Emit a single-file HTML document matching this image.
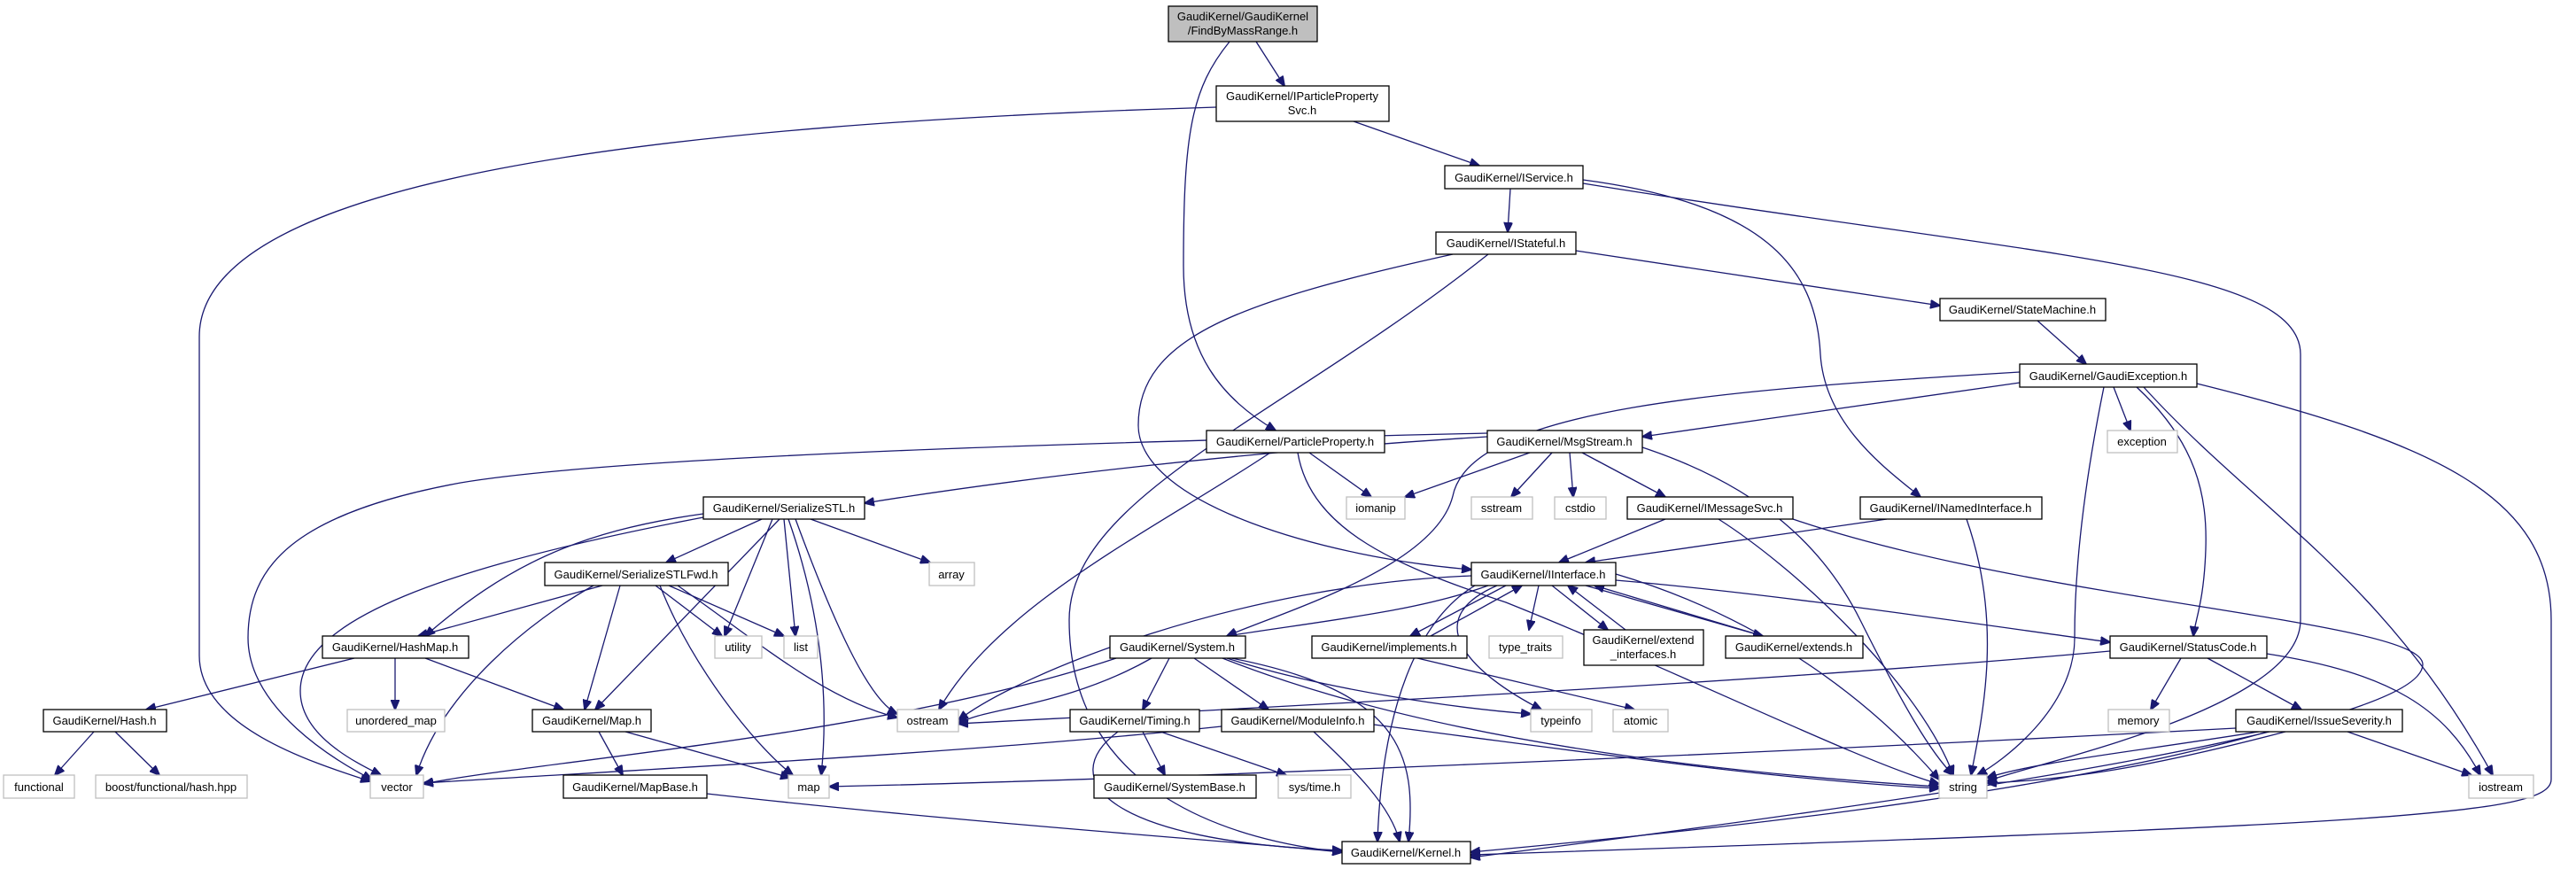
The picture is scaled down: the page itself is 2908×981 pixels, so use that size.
<!DOCTYPE html>
<html><head><meta charset="utf-8">
<style>
html,body{margin:0;padding:0;background:#fff;}
svg{display:block;}
text{font-family:"Liberation Sans",Arial,sans-serif;font-size:13px;fill:#000;}
.e{fill:none;stroke:#191970;stroke-width:1.3;marker-end:url(#a);}
.n{fill:#fff;stroke:#000;stroke-width:1.3;}
.s{fill:#fff;stroke:#bfbfbf;stroke-width:1.3;}
</style></head>
<body>
<svg width="2908" height="981" viewBox="0 0 2908 981" xmlns="http://www.w3.org/2000/svg">
<defs>
<marker id="a" markerWidth="12" markerHeight="10" refX="11" refY="5" orient="auto" markerUnits="userSpaceOnUse">
<path d="M0,0 L12,5 L0,10 Z" fill="#191970" stroke="#191970"/>
</marker>
</defs>

<!-- edges -->
<path class="e" d="M1418,47 L1450,97"/>
<path class="e" d="M1388,47 C1345,100 1336,150 1336,300 C1336,400 1380,450 1440,486"/>
<path class="e" d="M1373,121 C750,140 225,200 225,380 L225,740 C225,820 350,860 418,882"/>
<path class="e" d="M1528,137 L1670,187"/>
<path class="e" d="M1705,213 L1702,262"/>
<path class="e" d="M1787,203 C1990,230 2050,300 2055,400 C2060,480 2130,530 2168,561"/>
<path class="e" d="M1787,207 C2300,290 2597,300 2597,400 L2597,700 C2597,800 2300,860 2243,882"/>
<path class="e" d="M1779,283 L2190,345"/>
<path class="e" d="M1640,287 C1400,340 1285,380 1285,480 C1285,570 1500,630 1661,643"/>
<path class="e" d="M1680,287 C1450,470 1207,560 1207,700 C1207,900 1400,950 1515,962"/>
<path class="e" d="M2300,362 L2355,411"/>
<path class="e" d="M2280,432 L1854,493"/>
<path class="e" d="M2280,420 C1950,440 1660,460 1640,560 C1620,640 1450,690 1385,718"/>
<path class="e" d="M2386,437 L2405,486"/>
<path class="e" d="M2375,437 C2350,560 2342,650 2342,720 C2342,800 2260,860 2232,875"/>
<path class="e" d="M2412,437 C2480,500 2492,560 2490,620 C2488,680 2478,700 2476,718"/>
<path class="e" d="M2420,437 C2550,580 2690,650 2814,875"/>
<path class="e" d="M2480,433 C2750,500 2880,560 2880,700 L2880,880 C2880,920 2700,930 1660,965"/>
<path class="e" d="M1679,493 C1400,510 1150,540 976,568"/>
<path class="e" d="M1679,489 C1200,500 700,515 520,545 C330,580 280,640 280,720 C280,800 380,860 420,880"/>
<path class="e" d="M1727,511 L1586,561"/>
<path class="e" d="M1752,511 L1706,561"/>
<path class="e" d="M1772,511 L1776,561"/>
<path class="e" d="M1786,511 L1880,561"/>
<path class="e" d="M1854,505 C1990,550 2060,620 2100,700 C2150,800 2180,850 2205,875"/>
<path class="e" d="M1478,511 L1548,561"/>
<path class="e" d="M1465,511 C1480,600 1580,640 1700,680 C1900,760 2100,860 2189,885"/>
<path class="e" d="M1434,511 C1300,600 1130,680 1060,801"/>
<!-- SerializeSTL -->
<path class="e" d="M860,586 L752,635"/>
<path class="e" d="M915,586 L1050,635"/>
<path class="e" d="M794,580 C650,600 570,640 480,718"/>
<path class="e" d="M880,586 C870,650 860,720 853,770 L672,801" style="display:none"/>
<path class="e" d="M875,586 C860,660 855,730 845,770 L672,801" style="display:none"/>
<path class="e" d="M880,586 L672,801"/>
<path class="e" d="M794,584 C500,640 339,700 339,780 C339,830 400,860 430,875"/>
<path class="e" d="M872,586 L818,718"/>
<path class="e" d="M885,586 L898,718"/>
<path class="e" d="M890,586 C930,700 935,800 927,875"/>
<path class="e" d="M898,586 C940,700 980,790 1013,806"/>
<!-- SerializeSTLFwd -->
<path class="e" d="M680,661 L472,718"/>
<path class="e" d="M700,661 L660,801"/>
<path class="e" d="M670,661 C600,700 500,780 470,875"/>
<path class="e" d="M740,661 L815,718"/>
<path class="e" d="M755,661 L885,718"/>
<path class="e" d="M745,661 C780,750 850,840 895,875"/>
<path class="e" d="M765,661 C850,720 930,790 1013,810"/>
<!-- HashMap -->
<path class="e" d="M400,743 L165,801"/>
<path class="e" d="M446,743 L446,801"/>
<path class="e" d="M480,743 L636,801"/>
<path class="e" d="M106,826 L62,875"/>
<path class="e" d="M130,826 L180,875"/>
<path class="e" d="M676,826 L703,875"/>
<path class="e" d="M706,826 L892,878"/>
<path class="e" d="M798,896 C1100,930 1400,950 1515,962"/>
<!-- IInterface -->
<path class="e" d="M1661,650 C1400,660 1150,760 1082,813"/>
<path class="e" d="M1680,661 C1600,690 1500,700 1385,718"/>
<path class="e" d="M1700,661 L1592,718"/>
<path class="e" d="M1615,718 L1718,661"/>
<path class="e" d="M1737,661 L1726,711"/>
<path class="e" d="M1752,661 L1815,711"/>
<path class="e" d="M1835,711 L1770,661"/>
<path class="e" d="M1790,661 L1990,718"/>
<path class="e" d="M1990,718 L1800,661"/>
<path class="e" d="M1824,655 C2000,670 2200,700 2382,725"/>
<path class="e" d="M1665,661 C1600,700 1560,800 1555,950"/>
<path class="e" d="M1690,661 C1600,700 1660,760 1740,801"/>
<path class="e" d="M1824,648 C2000,700 2120,800 2189,880"/>
<path class="e" d="M1600,743 L1845,801"/>
<!-- IMessageSvc / INamedInterface -->
<path class="e" d="M1880,586 L1760,635"/>
<path class="e" d="M1940,586 C2040,650 2170,780 2205,875"/>
<path class="e" d="M2024,586 C2300,680 2735,700 2735,750 C2735,820 2200,900 1660,968"/>
<path class="e" d="M2130,586 L1790,635"/>
<path class="e" d="M2220,586 C2260,700 2240,800 2225,875"/>
<!-- System -->
<path class="e" d="M1300,743 C1200,800 1100,800 1082,818"/>
<path class="e" d="M1320,743 L1290,801"/>
<path class="e" d="M1348,743 L1432,801"/>
<path class="e" d="M1385,743 C1500,780 1650,800 1728,806"/>
<path class="e" d="M1380,743 C1600,830 1900,870 2189,888"/>
<path class="e" d="M1390,743 C1580,780 1600,850 1590,950"/>
<path class="e" d="M1260,743 C1000,830 600,860 478,885"/>
<!-- Timing / ModuleInfo -->
<path class="e" d="M1290,826 L1315,875"/>
<path class="e" d="M1310,826 L1452,875"/>
<path class="e" d="M1262,826 C1190,880 1250,950 1515,960"/>
<path class="e" d="M1483,826 C1530,870 1570,910 1580,950"/>
<path class="e" d="M1551,818 C1800,850 2000,880 2189,890"/>
<path class="e" d="M1379,820 C1100,850 700,870 478,884"/>
<!-- StatusCode -->
<path class="e" d="M2382,735 C2000,770 1400,800 1082,817"/>
<path class="e" d="M2462,743 L2428,801"/>
<path class="e" d="M2492,743 L2598,801"/>
<path class="e" d="M2559,738 C2700,760 2760,800 2800,875"/>
<!-- IssueSeverity -->
<path class="e" d="M2524,822 C2000,850 1300,880 936,888"/>
<path class="e" d="M2550,826 C2400,850 2300,860 2243,878"/>
<path class="e" d="M2580,826 C2450,860 2350,880 2243,884"/>
<path class="e" d="M2560,826 C2300,900 1900,940 1660,962"/>
<path class="e" d="M2650,826 L2790,875"/>

<!-- nodes -->
<rect x="1319" y="7" width="168" height="40" fill="#bfbfbf" stroke="#000" stroke-width="1.3"/>
<text x="1403" y="23" text-anchor="middle">GaudiKernel/GaudiKernel</text>
<text x="1403" y="39" text-anchor="middle">/FindByMassRange.h</text>

<rect class="n" x="1373" y="97" width="195" height="40"/>
<text x="1470" y="113" text-anchor="middle">GaudiKernel/IParticleProperty</text>
<text x="1470" y="129" text-anchor="middle">Svc.h</text>

<rect class="n" x="1631" y="187" width="156" height="26"/><text x="1709" y="205" text-anchor="middle">GaudiKernel/IService.h</text>
<rect class="n" x="1621" y="262" width="158" height="25"/><text x="1700" y="279" text-anchor="middle">GaudiKernel/IStateful.h</text>
<rect class="n" x="2190" y="337" width="187" height="25"/><text x="2283" y="354" text-anchor="middle">GaudiKernel/StateMachine.h</text>
<rect class="n" x="2280" y="411" width="200" height="26"/><text x="2380" y="429" text-anchor="middle">GaudiKernel/GaudiException.h</text>
<rect class="n" x="1362" y="486" width="201" height="25"/><text x="1462" y="503" text-anchor="middle">GaudiKernel/ParticleProperty.h</text>
<rect class="n" x="1679" y="486" width="175" height="25"/><text x="1766" y="503" text-anchor="middle">GaudiKernel/MsgStream.h</text>
<rect class="s" x="2379" y="486" width="79" height="25"/><text x="2418" y="503" text-anchor="middle">exception</text>
<rect class="n" x="794" y="561" width="182" height="25"/><text x="885" y="578" text-anchor="middle">GaudiKernel/SerializeSTL.h</text>
<rect class="s" x="1520" y="561" width="66" height="25"/><text x="1553" y="578" text-anchor="middle">iomanip</text>
<rect class="s" x="1661" y="561" width="69" height="25"/><text x="1695" y="578" text-anchor="middle">sstream</text>
<rect class="s" x="1755" y="561" width="58" height="25"/><text x="1784" y="578" text-anchor="middle">cstdio</text>
<rect class="n" x="1837" y="561" width="187" height="25"/><text x="1930" y="578" text-anchor="middle">GaudiKernel/IMessageSvc.h</text>
<rect class="n" x="2100" y="561" width="205" height="25"/><text x="2202" y="578" text-anchor="middle">GaudiKernel/INamedInterface.h</text>
<rect class="n" x="615" y="635" width="207" height="26"/><text x="718" y="653" text-anchor="middle">GaudiKernel/SerializeSTLFwd.h</text>
<rect class="s" x="1049" y="635" width="51" height="26"/><text x="1074" y="653" text-anchor="middle">array</text>
<rect class="n" x="1661" y="635" width="163" height="26"/><text x="1742" y="653" text-anchor="middle">GaudiKernel/IInterface.h</text>
<rect class="n" x="364" y="718" width="165" height="25"/><text x="446" y="735" text-anchor="middle">GaudiKernel/HashMap.h</text>
<rect class="s" x="807" y="718" width="53" height="25"/><text x="833" y="735" text-anchor="middle">utility</text>
<rect class="s" x="885" y="718" width="38" height="25"/><text x="904" y="735" text-anchor="middle">list</text>
<rect class="n" x="1253" y="718" width="153" height="25"/><text x="1329" y="735" text-anchor="middle">GaudiKernel/System.h</text>
<rect class="n" x="1481" y="718" width="175" height="25"/><text x="1568" y="735" text-anchor="middle">GaudiKernel/implements.h</text>
<rect class="s" x="1681" y="718" width="83" height="25"/><text x="1722" y="735" text-anchor="middle">type_traits</text>
<rect class="n" x="1788" y="711" width="135" height="40"/>
<text x="1855" y="727" text-anchor="middle">GaudiKernel/extend</text>
<text x="1855" y="743" text-anchor="middle">_interfaces.h</text>
<rect class="n" x="1948" y="718" width="155" height="25"/><text x="2025" y="735" text-anchor="middle">GaudiKernel/extends.h</text>
<rect class="n" x="2382" y="718" width="177" height="25"/><text x="2470" y="735" text-anchor="middle">GaudiKernel/StatusCode.h</text>
<rect class="n" x="49" y="801" width="139" height="25"/><text x="118" y="818" text-anchor="middle">GaudiKernel/Hash.h</text>
<rect class="s" x="392" y="801" width="110" height="25"/><text x="447" y="818" text-anchor="middle">unordered_map</text>
<rect class="n" x="601" y="801" width="134" height="25"/><text x="668" y="818" text-anchor="middle">GaudiKernel/Map.h</text>
<rect class="s" x="1013" y="801" width="69" height="25"/><text x="1047" y="818" text-anchor="middle">ostream</text>
<rect class="n" x="1208" y="801" width="146" height="25"/><text x="1281" y="818" text-anchor="middle">GaudiKernel/Timing.h</text>
<rect class="n" x="1379" y="801" width="172" height="25"/><text x="1465" y="818" text-anchor="middle">GaudiKernel/ModuleInfo.h</text>
<rect class="s" x="1728" y="801" width="69" height="25"/><text x="1762" y="818" text-anchor="middle">typeinfo</text>
<rect class="s" x="1821" y="801" width="62" height="25"/><text x="1852" y="818" text-anchor="middle">atomic</text>
<rect class="s" x="2380" y="801" width="69" height="25"/><text x="2414" y="818" text-anchor="middle">memory</text>
<rect class="n" x="2524" y="801" width="188" height="25"/><text x="2618" y="818" text-anchor="middle">GaudiKernel/IssueSeverity.h</text>
<rect class="s" x="4" y="875" width="80" height="26"/><text x="44" y="893" text-anchor="middle">functional</text>
<rect class="s" x="108" y="875" width="171" height="26"/><text x="193" y="893" text-anchor="middle">boost/functional/hash.hpp</text>
<rect class="s" x="418" y="875" width="60" height="26"/><text x="448" y="893" text-anchor="middle">vector</text>
<rect class="n" x="636" y="875" width="162" height="26"/><text x="717" y="893" text-anchor="middle">GaudiKernel/MapBase.h</text>
<rect class="s" x="890" y="875" width="46" height="26"/><text x="913" y="893" text-anchor="middle">map</text>
<rect class="n" x="1235" y="875" width="183" height="26"/><text x="1326" y="893" text-anchor="middle">GaudiKernel/SystemBase.h</text>
<rect class="s" x="1443" y="875" width="82" height="26"/><text x="1484" y="893" text-anchor="middle">sys/time.h</text>
<rect class="s" x="2189" y="875" width="54" height="26"/><text x="2216" y="893" text-anchor="middle">string</text>
<rect class="s" x="2787" y="875" width="73" height="26"/><text x="2823" y="893" text-anchor="middle">iostream</text>
<rect class="n" x="1515" y="950" width="145" height="25"/><text x="1587" y="967" text-anchor="middle">GaudiKernel/Kernel.h</text>
</svg>
</body></html>
